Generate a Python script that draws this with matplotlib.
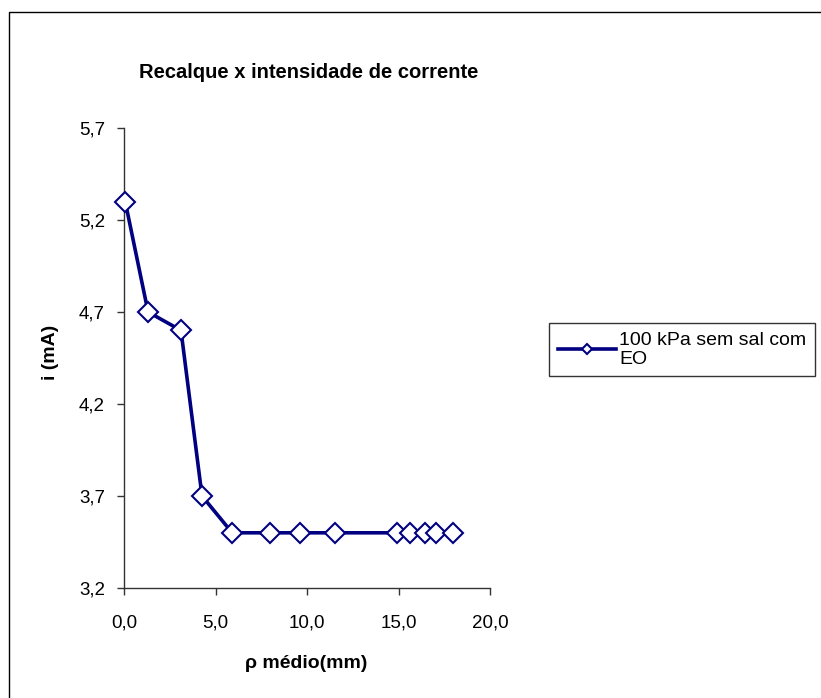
import matplotlib
matplotlib.use("Agg")
import matplotlib.pyplot as plt
from matplotlib.patches import Rectangle
from matplotlib.ticker import FuncFormatter

plt.rcParams['font.family'] = ['Liberation Sans', 'DejaVu Sans']

# Data
rho_medio = [0.05, 1.3, 3.1, 4.25, 5.9, 7.95, 9.6, 11.55, 14.9, 15.6, 16.45, 17.05, 18.0]
corrente = [5.3, 4.7, 4.6, 3.7, 3.5, 3.5, 3.5, 3.5, 3.5, 3.5, 3.5, 3.5, 3.5]
series_label = "100 kPa sem sal com\nEO"
title = "Recalque x intensidade de corrente"
xlabel = "ρ médio(mm)"
ylabel = "i (mA)"
xticks = [0, 5, 10, 15, 20]
yticks = [3.2, 3.7, 4.2, 4.7, 5.2, 5.7]

W, H = 821, 698
fig = plt.figure(figsize=(W / 100, H / 100), dpi=100)

# outer chart frame (cut off at right/bottom)
fig.patches.append(Rectangle((9 / W, -0.1), 1.2, 1 - 12 / H + 0.1,
                             transform=fig.transFigure, fill=False,
                             edgecolor='black', linewidth=1.0))

ax = fig.add_axes([124.3 / W, 1 - 588 / H, (490 - 124.3) / W, (588 - 128) / H])
navy = '#000080'
line, = ax.plot(rho_medio, corrente, color=navy, linewidth=2.6, marker='D',
                markersize=10, markerfacecolor='white', markeredgecolor=navy,
                markeredgewidth=1.5, label=series_label, clip_on=False, zorder=3)

ax.set_xlim(0, 20)
ax.set_ylim(3.2, 5.7)
ax.set_xticks(xticks)
ax.set_yticks(yticks)
fmt = FuncFormatter(lambda v, p: f"{v:.1f}".replace('.', ','))
ax.xaxis.set_major_formatter(fmt)
ax.yaxis.set_major_formatter(fmt)
for s in ['top', 'right']:
    ax.spines[s].set_visible(False)
for s in ['left', 'bottom']:
    ax.spines[s].set_color('#333333')
    ax.spines[s].set_linewidth(1.0)
ax.tick_params(direction='out', length=5, width=1, color='#333333',
               labelsize=13.5)
ax.tick_params(axis='y', pad=9)
ax.tick_params(axis='x', pad=14)

fig.text(309 / W, 1 - 73 / H, title, ha='center', va='center',
         fontsize=14.5, fontweight='bold')
fig.text(306 / W, 1 - 663 / H, xlabel, ha='center', va='center',
         fontsize=14, fontweight='bold')
fig.text(50 / W, 1 - 352 / H, ylabel, ha='center', va='center',
         fontsize=14, fontweight='bold', rotation=90)

leg = fig.legend(handles=[line], loc='upper left',
                 bbox_to_anchor=(549 / W, 1 - 323 / H), fontsize=14,
                 frameon=True, fancybox=False, edgecolor='black',
                 markerscale=0.5, handlelength=3.0, handletextpad=0.15,
                 borderpad=0.45, borderaxespad=0)
leg.get_frame().set_linewidth(1.0)
leg.get_lines()[0].set_linewidth(2.6)
for t in leg.get_texts():
    t.set_linespacing(1.15)

fig.savefig("out.png", dpi=100)
